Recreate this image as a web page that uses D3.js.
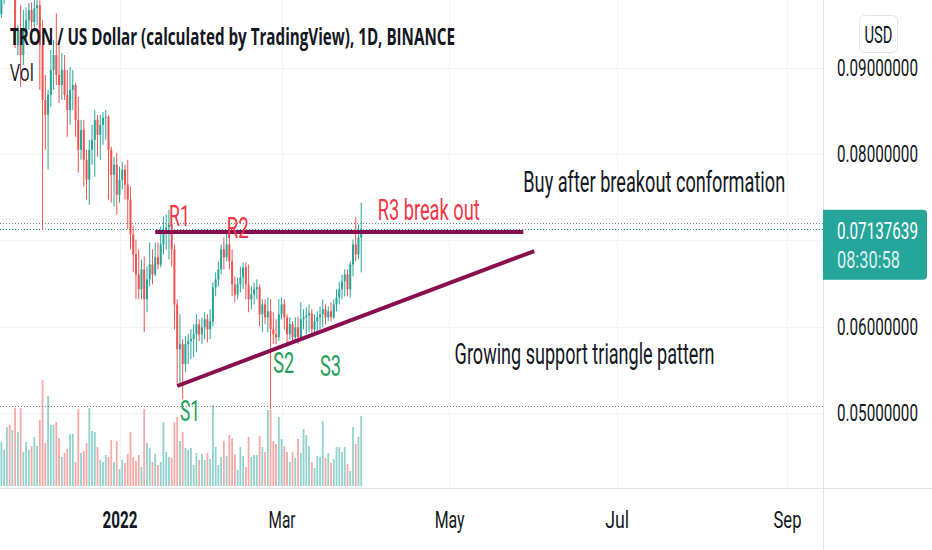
<!DOCTYPE html>
<html>
<head>
<meta charset="utf-8">
<script src="https://cdn.jsdelivr.net/npm/d3@7"></script>
<style>
  html, body { margin: 0; padding: 0; background: #fff; }
  svg { display: block; }
</style>
</head>
<body>
<div id="chart"></div>
<script>
// ========= Data (TRX/USD daily, 19 Nov 2021 - 30 Mar 2022) ========= //
const firstDay = new Date(Date.UTC(2021, 10, 19));
const lastDay = new Date(Date.UTC(2022, 2, 31)); // exclusive

const open = [
  0.09624, 0.09786, 0.09959, 0.10075, 0.09994, 0.10040, 0.09266, 0.09439, 0.09150, 0.09439,
  0.09555, 0.09670, 0.09532, 0.09694, 0.09728, 0.09266, 0.08630, 0.08457, 0.08688, 0.08977,
  0.09150, 0.08919, 0.08803, 0.08977, 0.08688, 0.08514, 0.08746, 0.08803, 0.08399, 0.08052,
  0.08283, 0.07936, 0.07705, 0.08052, 0.08168, 0.08399, 0.08225, 0.08341, 0.08422, 0.08433,
  0.08052, 0.07763, 0.07879, 0.07532, 0.07705, 0.07821, 0.07647, 0.07474, 0.07070, 0.06838,
  0.06606, 0.06434, 0.06665, 0.06318, 0.06549, 0.06722, 0.06606, 0.06804, 0.06722, 0.06954,
  0.07104, 0.07150, 0.07186, 0.06896, 0.06260, 0.05740, 0.05798, 0.05567, 0.05798, 0.05833,
  0.05856, 0.05913, 0.06029, 0.05913, 0.05994, 0.06087, 0.05971, 0.06063, 0.06457, 0.06549,
  0.06665, 0.06896, 0.06804, 0.06954, 0.06757, 0.06491, 0.06376, 0.06491, 0.06572, 0.06688,
  0.06491, 0.06318, 0.06376, 0.06434, 0.06457, 0.06145, 0.06260, 0.06110, 0.06179, 0.05971,
  0.05913, 0.05879, 0.06145, 0.06260, 0.06110, 0.05913, 0.06029, 0.05879, 0.05994, 0.05879,
  0.06087, 0.06110, 0.06133, 0.06156, 0.05971, 0.06063, 0.06110, 0.06145, 0.06202, 0.06110,
  0.06179, 0.06110, 0.06260, 0.06341, 0.06434, 0.06526, 0.06606, 0.06434, 0.06722, 0.06954,
  0.06838, 0.07035
];
const high = [
  0.09844, 0.10075, 0.10191, 0.10156, 0.10133, 0.10075, 0.09497, 0.09728, 0.09670, 0.09705,
  0.09751, 0.09763, 0.09786, 0.09844, 0.09786, 0.09555, 0.08919, 0.08746, 0.09208, 0.09324,
  0.09636, 0.09266, 0.09173, 0.09150, 0.08977, 0.09011, 0.08977, 0.08827, 0.08665, 0.08399,
  0.08399, 0.08052, 0.08168, 0.08341, 0.08514, 0.08457, 0.08457, 0.08491, 0.08514, 0.08457,
  0.08087, 0.07971, 0.08017, 0.07855, 0.07913, 0.07879, 0.07936, 0.07624, 0.07162, 0.07012,
  0.06896, 0.06780, 0.06815, 0.06699, 0.06977, 0.06896, 0.06977, 0.06977, 0.07162, 0.07277,
  0.07300, 0.07358, 0.07220, 0.06954, 0.06318, 0.06145, 0.05856, 0.05890, 0.05913, 0.05971,
  0.06029, 0.06145, 0.06087, 0.06110, 0.06168, 0.06145, 0.06202, 0.06514, 0.06630, 0.06757,
  0.06954, 0.07035, 0.07104, 0.07035, 0.06896, 0.06583, 0.06572, 0.06699, 0.06746, 0.06746,
  0.06722, 0.06468, 0.06514, 0.06549, 0.06491, 0.06318, 0.06318, 0.06341, 0.06318, 0.06168,
  0.06087, 0.06318, 0.06341, 0.06318, 0.06145, 0.06110, 0.06063, 0.06110, 0.06121, 0.06283,
  0.06202, 0.06226, 0.06260, 0.06202, 0.06145, 0.06179, 0.06237, 0.06318, 0.06260, 0.06237,
  0.06283, 0.06318, 0.06434, 0.06526, 0.06606, 0.06665, 0.06665, 0.06757, 0.07012, 0.07266,
  0.07186, 0.07439
];
const low = [
  0.09578, 0.09740, 0.09930, 0.09902, 0.09878, 0.09231, 0.09150, 0.08780, 0.09035, 0.09324,
  0.09439, 0.09381, 0.09439, 0.09497, 0.08746, 0.07128, 0.08052, 0.07821, 0.08549, 0.08746,
  0.08803, 0.08595, 0.08630, 0.08630, 0.08202, 0.08341, 0.08514, 0.08202, 0.07786, 0.07936,
  0.07624, 0.07474, 0.07416, 0.07879, 0.07740, 0.07971, 0.07936, 0.08110, 0.08168, 0.07474,
  0.07439, 0.07393, 0.07300, 0.07439, 0.07590, 0.07474, 0.07128, 0.06896, 0.06630, 0.06318,
  0.06318, 0.06318, 0.05936, 0.06168, 0.06468, 0.06491, 0.06583, 0.06665, 0.06688, 0.06838,
  0.06896, 0.06780, 0.06699, 0.05971, 0.05335, 0.05335, 0.05162, 0.05474, 0.05567, 0.05624,
  0.05648, 0.05705, 0.05833, 0.05798, 0.05856, 0.05821, 0.05856, 0.06005, 0.06353, 0.06468,
  0.06606, 0.06665, 0.06757, 0.06665, 0.06353, 0.06283, 0.06318, 0.06399, 0.06434, 0.06318,
  0.06168, 0.06202, 0.06260, 0.06318, 0.06005, 0.05936, 0.06029, 0.05936, 0.05046, 0.05798,
  0.05798, 0.05833, 0.06087, 0.05971, 0.05775, 0.05856, 0.05798, 0.05833, 0.05798, 0.05856,
  0.05971, 0.05913, 0.05936, 0.05890, 0.05890, 0.05936, 0.05971, 0.05994, 0.06029, 0.06063,
  0.06063, 0.06087, 0.06179, 0.06260, 0.06318, 0.06353, 0.06353, 0.06341, 0.06583, 0.06757,
  0.06780, 0.06630
];
const close = [
  0.09786, 0.09959, 0.10075, 0.09994, 0.10040, 0.09266, 0.09439, 0.09150, 0.09439, 0.09555,
  0.09670, 0.09532, 0.09694, 0.09728, 0.09266, 0.08630, 0.08457, 0.08688, 0.08977, 0.09150,
  0.08919, 0.08803, 0.08977, 0.08688, 0.08514, 0.08746, 0.08803, 0.08399, 0.08052, 0.08283,
  0.07936, 0.07705, 0.08052, 0.08168, 0.08399, 0.08225, 0.08341, 0.08422, 0.08433, 0.08052,
  0.07763, 0.07879, 0.07532, 0.07705, 0.07821, 0.07647, 0.07474, 0.07070, 0.06838, 0.06606,
  0.06434, 0.06665, 0.06318, 0.06549, 0.06722, 0.06606, 0.06804, 0.06722, 0.06954, 0.07104,
  0.07150, 0.07186, 0.06896, 0.06260, 0.05740, 0.05798, 0.05567, 0.05798, 0.05833, 0.05856,
  0.05913, 0.06029, 0.05913, 0.05994, 0.06087, 0.05971, 0.06063, 0.06457, 0.06549, 0.06665,
  0.06896, 0.06804, 0.06954, 0.06757, 0.06491, 0.06376, 0.06491, 0.06572, 0.06688, 0.06491,
  0.06318, 0.06376, 0.06434, 0.06457, 0.06145, 0.06260, 0.06110, 0.06179, 0.05971, 0.05913,
  0.05879, 0.06145, 0.06260, 0.06110, 0.05913, 0.06029, 0.05879, 0.05994, 0.05879, 0.06087,
  0.06110, 0.06133, 0.06156, 0.05971, 0.06063, 0.06110, 0.06145, 0.06202, 0.06110, 0.06179,
  0.06110, 0.06260, 0.06341, 0.06434, 0.06526, 0.06606, 0.06434, 0.06722, 0.06954, 0.06838,
  0.07035, 0.07138
];
// volume, millions TRX
const volume = [
  440, 360, 590, 610, 560, 780, 540, 780, 340, 440,
  360, 400, 490, 400, 660, 1060, 430, 900, 610, 610,
  640, 480, 290, 330, 370, 520, 520, 240, 770, 330,
  350, 430, 780, 550, 540, 390, 260, 240, 310, 290,
  460, 240, 450, 170, 260, 230, 320, 540, 290, 250,
  310, 190, 770, 430, 380, 240, 320, 210, 240, 640,
  340, 290, 280, 640, 690, 450, 540, 380, 360, 380,
  210, 330, 260, 320, 260, 330, 270, 810, 390, 210,
  290, 450, 300, 510, 480, 320, 160, 390, 300, 190,
  490, 290, 310, 310, 500, 390, 340, 760, 760, 450,
  420, 690, 470, 400, 340, 240, 340, 280, 470, 330,
  570, 510, 400, 240, 180, 300, 290, 650, 280, 330,
  230, 270, 390, 390, 340, 390, 220, 150, 590, 420,
  490, 700
];

const priceTicks = [0.05, 0.06, 0.07, 0.08, 0.09];
const timeTicks = ['2022-01-01', '2022-03-01', '2022-05-01', '2022-07-01', '2022-09-01'];
const timeLabels = ['2022', 'Mar', 'May', 'Jul', 'Sep'];

const lastPrice = 0.07137639;
const countdown = '08:30:58';
const greyLevels = [0.07203, 0.05081];

// drawings
const resistance = [{ date: '2022-01-14', price: 0.0710 }, { date: '2022-05-28', price: 0.0710 }];
const support = [{ date: '2022-01-22', price: 0.05313 }, { date: '2022-06-01', price: 0.06878 }];
const notes = [
  { text: 'R1', date: '2022-01-19', price: 0.07168, kind: 'r' },
  { text: 'R2', date: '2022-02-09', price: 0.07029, kind: 'r' },
  { text: 'R3 break out', date: '2022-04-05', price: 0.07238, kind: 'r' },
  { text: 'S1', date: '2022-01-23', price: 0.04907, kind: 's' },
  { text: 'S2', date: '2022-02-26', price: 0.05464, kind: 's' },
  { text: 'S3', date: '2022-03-15', price: 0.05429, kind: 's' },
  { text: 'Buy after breakout conformation', date: '2022-05-28', price: 0.07562, kind: 'n' },
  { text: 'Growing support triangle pattern', date: '2022-05-03', price: 0.05568, kind: 'n' }
];

// ========= Layout ========= //
const width = 932, height = 550;
const paneRight = 823, paneBottom = 488;
const up = '#26a69a', down = '#ef5350';
const textColor = '#131722', gridColor = '#f0f3fa', borderColor = '#e0e3eb';
const noteColors = { r: '#f23645', s: '#22a05a', n: '#131722' };
const noteWidths = {
  'R1': 21, 'R2': 22, 'R3 break out': 102, 'S1': 20, 'S2': 21, 'S3': 21,
  'Buy after breakout conformation': 262, 'Growing support triangle pattern': 260
};
const parseDay = d3.utcParse('%Y-%m-%d');

const candles = d3.utcDays(firstDay, lastDay).map((date, i) => ({
  date, o: open[i], h: high[i], l: low[i], c: close[i], v: volume[i]
}));

// The screenshot is squeezed sideways, so every text is narrowed to its measured width
function squeeze(selection, widthOf) {
  selection.each(function(d, i) {
    const node = d3.select(this);
    const tx = +node.attr('x') || 0;
    const ty = +node.attr('y') || 0;
    const natural = this.getComputedTextLength();
    const k = widthOf(d, i) / natural;
    node.attr('x', 0).attr('y', 0)
      .attr('transform', `translate(${tx},${ty}) scale(${k},1)`);
  });
}

// ========= Scales ========= //
const x = d3.scaleUtc()
  .domain([parseDay('2022-01-01'), parseDay('2022-09-01')])
  .range([119.5, 787]);
const y = d3.scaleLinear().domain([0.05, 0.09]).range([413, 68]);
const yVol = d3.scaleLinear().domain([0, d3.max(volume)]).range([486, 380]);

// ========= SVG ========= //
const svg = d3.select('#chart').append('svg')
  .attr('width', width)
  .attr('height', height)
  .style('font-family', 'Roboto, "Noto Sans", sans-serif');

svg.append('defs').append('clipPath').attr('id', 'pane')
  .append('rect').attr('width', paneRight).attr('height', paneBottom);

const pane = svg.append('g').attr('clip-path', 'url(#pane)');

// ========= Grid ========= //
pane.append('g').selectAll('line')
  .data(priceTicks)
  .join('line')
  .attr('x1', 0).attr('x2', paneRight)
  .attr('y1', (d) => Math.round(y(d)) + 0.5).attr('y2', (d) => Math.round(y(d)) + 0.5)
  .attr('stroke', gridColor);

pane.append('g').selectAll('line')
  .data(timeTicks.map(parseDay))
  .join('line')
  .attr('x1', (d) => Math.round(x(d)) + 0.5).attr('x2', (d) => Math.round(x(d)) + 0.5)
  .attr('y1', 0).attr('y2', paneBottom)
  .attr('stroke', gridColor);

// ========= Volume ========= //
pane.append('g').selectAll('rect')
  .data(candles)
  .join('rect')
  .attr('x', (d) => x(d.date) - 0.9)
  .attr('width', 1.8)
  .attr('y', (d) => yVol(d.v))
  .attr('height', (d) => yVol(0) - yVol(d.v))
  .attr('fill', (d) => (d.c >= d.o ? up : down))
  .attr('fill-opacity', 0.5);

// ========= Price level lines ========= //
pane.append('g').selectAll('line')
  .data(greyLevels)
  .join('line')
  .attr('x1', 0).attr('x2', paneRight)
  .attr('y1', (d) => Math.round(y(d)) + 0.5).attr('y2', (d) => Math.round(y(d)) + 0.5)
  .attr('stroke', '#787b86')
  .attr('stroke-dasharray', '1 2');

pane.append('line')
  .attr('x1', 0).attr('x2', paneRight)
  .attr('y1', Math.round(y(lastPrice)) + 0.5).attr('y2', Math.round(y(lastPrice)) + 0.5)
  .attr('stroke', up)
  .attr('stroke-dasharray', '1 2');

// ========= Candles ========= //
const candle = pane.append('g').selectAll('g')
  .data(candles)
  .join('g')
  .attr('fill', (d) => (d.c >= d.o ? up : down))
  .attr('stroke', (d) => (d.c >= d.o ? up : down));

candle.append('line')
  .attr('x1', (d) => x(d.date)).attr('x2', (d) => x(d.date))
  .attr('y1', (d) => y(d.h)).attr('y2', (d) => y(d.l))
  .attr('stroke-width', 1);

candle.append('rect')
  .attr('stroke', 'none')
  .attr('x', (d) => x(d.date) - 1)
  .attr('width', 2)
  .attr('y', (d) => y(Math.max(d.o, d.c)))
  .attr('height', (d) => Math.max(1, Math.abs(y(d.o) - y(d.c))));

// ========= Drawings ========= //
const trend = d3.line()
  .x((d) => x(parseDay(d.date)))
  .y((d) => y(d.price));

[resistance, support].forEach((pts) => {
  pane.append('path')
    .datum(pts)
    .attr('d', trend)
    .attr('fill', 'none')
    .attr('stroke', '#880e4f')
    .attr('stroke-width', 4)
    .attr('stroke-linecap', 'butt');
});

pane.append('g').selectAll('text')
  .data(notes)
  .join('text')
  .attr('x', (d) => x(parseDay(d.date)))
  .attr('y', (d) => y(d.price))
  .attr('fill', (d) => noteColors[d.kind])
  .attr('font-size', 29)
  .text((d) => d.text)
  .call(squeeze, (d) => noteWidths[d.text]);

// ========= Legend ========= //
svg.append('text')
  .attr('x', 10).attr('y', 45)
  .attr('fill', textColor)
  .attr('font-family', '"Open Sans", sans-serif')
  .attr('font-weight', 700)
  .attr('font-size', 24)
  .text('TRON / US Dollar (calculated by TradingView), 1D, BINANCE')
  .call(squeeze, () => 445);

svg.append('text')
  .attr('x', 10).attr('y', 81)
  .attr('fill', textColor)
  .attr('font-family', '"Open Sans", sans-serif')
  .attr('font-size', 23)
  .text('Vol')
  .call(squeeze, () => 24);

// ========= Borders ========= //
svg.append('line')
  .attr('x1', paneRight + 0.5).attr('x2', paneRight + 0.5)
  .attr('y1', 0).attr('y2', height)
  .attr('stroke', borderColor);
svg.append('line')
  .attr('x1', 0).attr('x2', width)
  .attr('y1', paneBottom + 0.5).attr('y2', paneBottom + 0.5)
  .attr('stroke', borderColor);

// ========= Price axis ========= //
// the 0.07 label sits under the last price tag, so it is left out as in TradingView
const priceAxis = svg.append('g')
  .attr('transform', `translate(${paneRight},0)`)
  .call(d3.axisRight(y)
    .tickValues(priceTicks.filter((d) => Math.abs(y(d) - y(lastPrice)) > 40))
    .tickFormat(d3.format('.8f')).tickSize(0).tickPadding(14));
priceAxis.select('.domain').remove();
priceAxis.selectAll('text')
  .attr('fill', textColor)
  .attr('font-size', 24)
  .attr('font-family', 'Roboto, sans-serif')
  .call(squeeze, () => 81);

// last price tag
const tag = svg.append('g');
tag.append('path')
  .attr('d', `M${paneRight},${y(lastPrice) - 19} h100 a4,4 0 0 1 4,4 v62 a4,4 0 0 1 -4,4 h-100 z`)
  .attr('fill', up);
tag.append('text')
  .attr('x', 837).attr('y', y(lastPrice) + 10)
  .attr('fill', '#fff')
  .attr('font-size', 24)
  .text(d3.format('.8f')(lastPrice))
  .call(squeeze, () => 81);
tag.append('text')
  .attr('x', 837).attr('y', y(lastPrice) + 39)
  .attr('fill', '#fff')
  .attr('fill-opacity', 0.85)
  .attr('font-size', 24)
  .text(countdown)
  .call(squeeze, () => 63);

// currency button
const usd = svg.append('g');
usd.append('rect')
  .attr('x', 859.5).attr('y', 15.5).attr('width', 38).attr('height', 37).attr('rx', 5)
  .attr('fill', '#fff').attr('stroke', borderColor);
usd.append('text')
  .attr('x', 878.5).attr('y', 43)
  .attr('text-anchor', 'middle')
  .attr('fill', textColor)
  .attr('font-size', 23)
  .text('USD')
  .call(squeeze, () => 28);

// ========= Time axis ========= //
const timeWidths = [35, 27, 30, 24, 28];
const timeAxis = svg.append('g')
  .attr('transform', `translate(0,${paneBottom})`)
  .call(d3.axisBottom(x).tickValues(timeTicks.map(parseDay))
    .tickFormat((d, i) => timeLabels[i]).tickSize(0).tickPadding(23));
timeAxis.select('.domain').remove();
timeAxis.selectAll('text')
  .attr('fill', textColor)
  .attr('font-size', 24)
  .attr('font-family', 'Roboto, sans-serif')
  .attr('font-weight', (d, i) => (i === 0 ? 700 : 400))
  .call(squeeze, (d, i) => timeWidths[i]);
</script>
</body>
</html>
